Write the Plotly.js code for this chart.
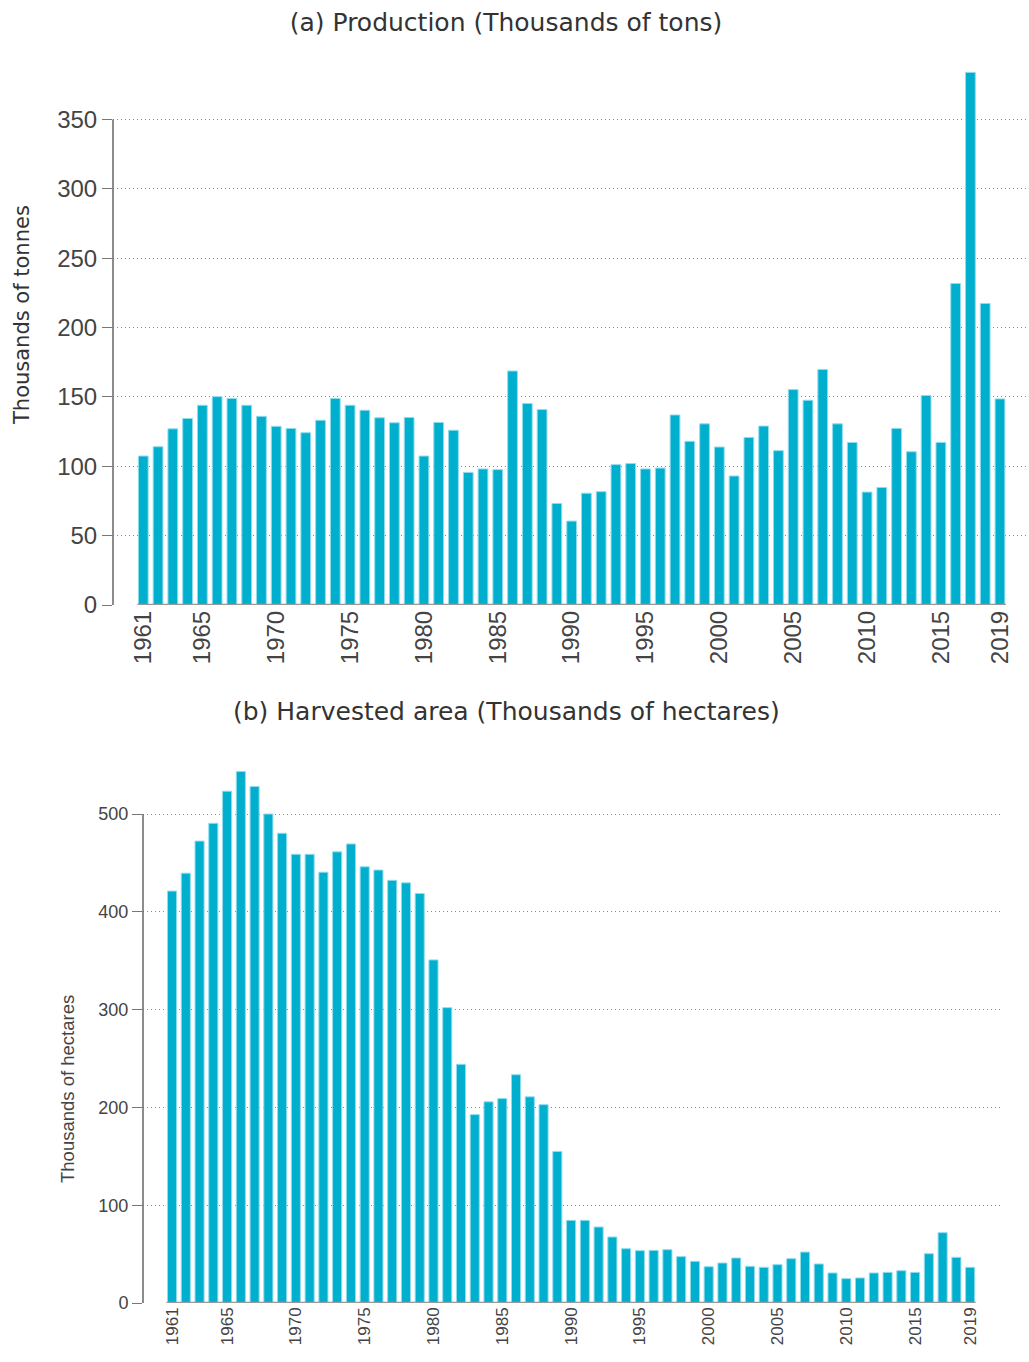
<!DOCTYPE html>
<html>
<head>
<meta charset="utf-8">
<script src="https://cdn.plot.ly/plotly-3.0.1.min.js"></script>
<style>html,body{margin:0;padding:0;background:#fff}#chart{width:1029px;height:1362px}</style>
</head>
<body>
<div id="chart"></div>
<script>
const years = [];
for (let y = 1961; y <= 2019; y++) years.push(y);

const production = [107.4,114.1,127,134.5,144,150.2,148.9,144,136,128.8,
  127.3,124.2,133.2,148.9,144,140.4,135,131.4,135.2,107.4,
  131.6,126,95.6,98.1,97.6,168.7,145.3,140.9,73.2,60.5,
  80.6,81.7,101.2,102,98.1,98.7,137,118,130.6,113.9,
  93,120.8,129,111.3,155.3,147.6,169.8,130.6,117.2,81.4,
  84.7,127.3,110.5,151,117.2,231.8,384,217.4,148.6];

const area = [421.2,439.5,472.3,490.5,523.3,543.4,528.1,500,480.3,458.8,
  458.8,440.5,461.3,469.4,446,442.7,432.2,429.6,418.7,350.8,
  302,244,192.6,205.7,209,233.4,210.8,202.8,155,84.5,
  84.5,77.7,67.5,55.5,53.5,53.8,54.5,47.4,42.6,37.1,
  40.9,46,37.5,36.5,39.2,45.3,52.1,39.9,30.7,24.9,
  25.6,30.7,31.3,33,31.3,50.4,71.9,46.7,36.5];

const yearTicks = [1961,1965,1970,1975,1980,1985,1990,1995,2000,2005,2010,2015,2019];
const prodTicks = [0,50,100,150,200,250,300,350];
const areaTicks = [0,100,200,300,400,500];

const titleA = '(a) Production (Thousands of tons)';
const titleB = '(b) Harvested area (Thousands of hectares)';
const yTitleA = 'Thousands of tonnes';
const yTitleB = 'Thousands of hectares';

const W = 1029, H = 1362;
const px = v => v / W;
const py = v => 1 - v / H;

const barColor = '#00aecd';
const titleFont = {family: 'DejaVu Sans, Lato, sans-serif', size: 25, color: '#333'};
const tickFontA = {family: 'Liberation Sans, Arial, sans-serif', size: 24, color: '#444'};
const tickFontB = {family: 'Liberation Sans, Arial, sans-serif', size: 17, color: '#444'};
const tickFontBy = {family: 'Liberation Sans, Arial, sans-serif', size: 18, color: '#444'};

const traces = [
  {type: 'bar', x: years, y: production, xaxis: 'x', yaxis: 'y',
   marker: {color: barColor, line: {color: '#8fdcec', width: 1}}, hoverinfo: 'x+y'},
  {type: 'bar', x: years, y: area, xaxis: 'x2', yaxis: 'y2',
   marker: {color: barColor, line: {color: '#8fdcec', width: 1}}, hoverinfo: 'x+y'}
];

const gridCommon = {showgrid: true, gridcolor: '#8a8a8a', gridwidth: 1, griddash: '1px,3px',
  zeroline: false, showline: false, ticks: 'outside', ticklen: 10, tickwidth: 1, tickcolor: '#777'};

const y0 = years[0], y1 = years[years.length - 1];

const layout = {
  width: W, height: H,
  margin: {l: 0, r: 0, t: 0, b: 0},
  paper_bgcolor: '#fff', plot_bgcolor: '#fff',
  showlegend: false,
  bargap: 0.34,
  title: {text: titleA, font: titleFont, x: px(506), xanchor: 'center', y: py(22), yanchor: 'middle', yref: 'paper'},
  xaxis: {domain: [px(113), px(1027)], range: [1958.95, 2020.83], tickvals: yearTicks,
    tickangle: -90, tickfont: tickFontA, showgrid: false, zeroline: false, showline: false, ticks: ''},
  yaxis: Object.assign({domain: [py(605), py(71)], range: [0, 385], tickvals: prodTicks, tickfont: tickFontA}, gridCommon),
  xaxis2: {domain: [px(143), px(1000)], range: [1958.89, 2021.17], tickvals: yearTicks, anchor: 'y2',
    tickangle: -90, tickfont: tickFontB, showgrid: false, zeroline: false, showline: false, ticks: ''},
  yaxis2: Object.assign({domain: [py(1303), py(770)], range: [0, 545], tickvals: areaTicks, tickfont: tickFontBy, anchor: 'x2'}, gridCommon),
  shapes: [
    {type: 'line', xref: 'x domain', yref: 'y', x0: 0, x1: 0, y0: 0, y1: prodTicks[prodTicks.length - 1], line: {color: '#666', width: 1.5}},
    {type: 'line', xref: 'x', yref: 'y', x0: y0 - 0.4, x1: y1 + 0.4, y0: 0, y1: 0, line: {color: '#999', width: 2.5}},
    {type: 'line', xref: 'x2 domain', yref: 'y2', x0: 0, x1: 0, y0: 0, y1: areaTicks[areaTicks.length - 1], line: {color: '#666', width: 1.5}},
    {type: 'line', xref: 'x2', yref: 'y2', x0: y0 - 0.4, x1: y1 + 0.4, y0: 0, y1: 0, line: {color: '#999', width: 2.5}}
  ],
  annotations: [
    {text: titleB, font: titleFont, xref: 'paper', yref: 'paper', x: px(506), y: py(712), xanchor: 'center', yanchor: 'middle', showarrow: false},
    {text: yTitleA, font: {family: 'DejaVu Sans, Lato, sans-serif', size: 21, color: '#333'}, textangle: -90,
     xref: 'paper', yref: 'paper', x: px(22), y: py(315), xanchor: 'center', yanchor: 'middle', showarrow: false},
    {text: yTitleB, font: {family: 'Liberation Sans, Arial, sans-serif', size: 18.5, color: '#444'}, textangle: -90,
     xref: 'paper', yref: 'paper', x: px(67), y: py(1089), xanchor: 'center', yanchor: 'middle', showarrow: false}
  ]
};

Plotly.newPlot('chart', traces, layout, {displayModeBar: false, staticPlot: true});
</script>
</body>
</html>
